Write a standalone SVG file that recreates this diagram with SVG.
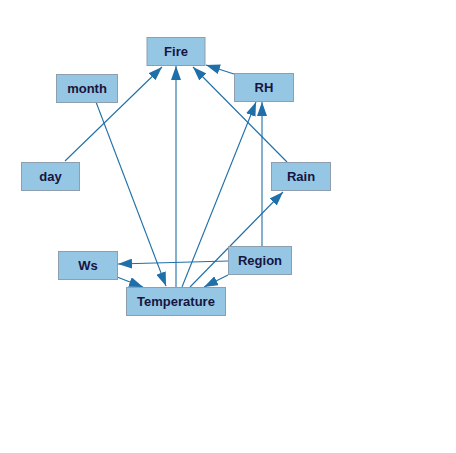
<svg xmlns="http://www.w3.org/2000/svg" width="456" height="453" viewBox="0 0 456 453">
<style>
.n rect{fill:#95c6e4;stroke:#8e9eae;stroke-width:1}
.n text{font-family:"Liberation Sans",Arial,sans-serif;font-weight:bold;font-size:13px;fill:#151540;text-anchor:middle}
.e line{stroke:#1f6fa8;stroke-width:1.1;marker-end:url(#ah)}
</style>
<defs>
<marker id="ah" viewBox="0 0 14 10" refX="14" refY="5" markerWidth="14" markerHeight="10" markerUnits="userSpaceOnUse" orient="auto">
<path d="M0,0L14,5L0,10Z" fill="#1f6fa8"/>
</marker>
</defs>
<rect width="456" height="453" fill="#fff"/>
<g id="edges" class="e">
<line x1="65" y1="161" x2="162" y2="67"/>
<line x1="96" y1="102" x2="166" y2="286"/>
<line x1="176" y1="287" x2="176" y2="66"/>
<line x1="287" y1="162" x2="193" y2="67"/>
<line x1="234" y1="74" x2="206" y2="65"/>
<line x1="182" y1="287" x2="256" y2="102"/>
<line x1="262" y1="246" x2="262" y2="102"/>
<line x1="190" y1="287" x2="283" y2="192"/>
<line x1="228" y1="261" x2="118" y2="264"/>
<line x1="117" y1="277" x2="143" y2="287"/>
<line x1="228" y1="275" x2="204" y2="287"/>
</g>
<g id="Fire" class="n"><rect x="147" y="37.5" width="58" height="28"/><text x="176" y="56">Fire</text></g>
<g id="RH" class="n"><rect x="234.5" y="73.5" width="59" height="28"/><text x="264" y="92">RH</text></g>
<g id="month" class="n"><rect x="56.5" y="74.5" width="61" height="28"/><text x="87" y="93">month</text></g>
<g id="day" class="n"><rect x="21.5" y="162.5" width="58" height="28"/><text x="50.5" y="181">day</text></g>
<g id="Rain" class="n"><rect x="271.5" y="162.5" width="59" height="28"/><text x="301" y="181">Rain</text></g>
<g id="Ws" class="n"><rect x="58.5" y="251.5" width="59" height="28"/><text x="88" y="270">Ws</text></g>
<g id="Region" class="n"><rect x="228.5" y="246.5" width="63" height="28"/><text x="260" y="265">Region</text></g>
<g id="Temperature" class="n"><rect x="126.5" y="287.5" width="99" height="28"/><text x="176" y="306">Temperature</text></g>
</svg>
